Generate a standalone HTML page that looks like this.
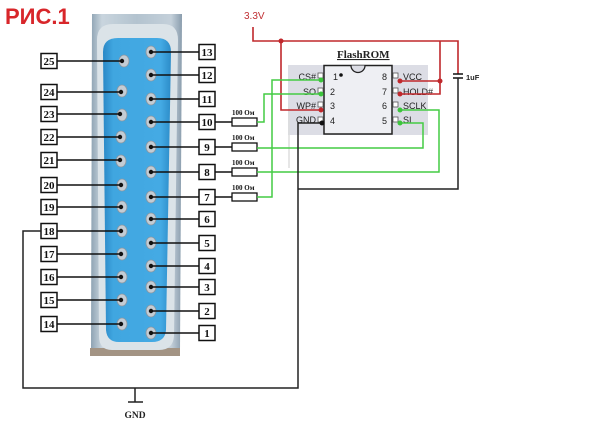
<!DOCTYPE html>
<html><head><meta charset="utf-8"><style>
html,body{margin:0;padding:0;background:#fff;}
svg{display:block;}
.n{font-family:"Liberation Serif",serif;font-weight:bold;font-size:11px;fill:#111;}
.l{font-family:"Liberation Sans",sans-serif;font-size:9px;fill:#222;}
.r{font-family:"Liberation Serif",serif;font-weight:bold;font-size:7px;fill:#111;}
</style></head><body>
<svg width="600" height="445" viewBox="0 0 600 445" xmlns="http://www.w3.org/2000/svg">
<defs>
<linearGradient id="shell" x1="0" y1="0" x2="1" y2="0">
<stop offset="0" stop-color="#8ea3b3"/><stop offset="0.12" stop-color="#c9d5de"/><stop offset="0.5" stop-color="#b3c3cf"/><stop offset="0.88" stop-color="#c4d0da"/><stop offset="1" stop-color="#8a9dad"/>
</linearGradient>
<linearGradient id="blue" x1="0" y1="0" x2="1" y2="0">
<stop offset="0" stop-color="#2a88c6"/><stop offset="0.15" stop-color="#40a6e0"/><stop offset="0.85" stop-color="#44aae4"/><stop offset="1" stop-color="#2c8cc8"/>
</linearGradient>
</defs>
<rect width="600" height="445" fill="#fff"/>
<text x="5" y="24" font-family="Liberation Sans, sans-serif" font-weight="bold" font-size="22" fill="#d8262a">РИС.1</text>

<!-- connector -->
<path d="M92,14 L182,14 L180,350 L91,350 Z" fill="url(#shell)"/>
<rect x="90" y="348" width="90" height="8" fill="#a39484"/>
<path d="M97,40 Q97,24 113,24 L163,24 Q178,24 178,40 L174,336 Q173,350 159,350 L112,350 Q99,350 99,336 Z" fill="#dbe3e8"/>
<path d="M103,52 Q103,38 118,38 L157,38 Q171,38 171,52 L166,330 Q165,342 152,342 L119,342 Q107,342 106,330 Z" fill="url(#blue)"/>

<g fill="#c3ccd4" stroke="#8a96a0" stroke-width="0.8">
<ellipse cx="124" cy="61" rx="5" ry="6"/><ellipse cx="122" cy="91" rx="5" ry="6"/><ellipse cx="122" cy="115" rx="5" ry="6"/><ellipse cx="121" cy="137" rx="5" ry="6"/><ellipse cx="121" cy="161" rx="5" ry="6"/><ellipse cx="122" cy="185" rx="5" ry="6"/><ellipse cx="122" cy="207" rx="5" ry="6"/><ellipse cx="122" cy="231" rx="5" ry="6"/><ellipse cx="122" cy="254" rx="5" ry="6"/><ellipse cx="122" cy="277" rx="5" ry="6"/><ellipse cx="122" cy="300" rx="5" ry="6"/><ellipse cx="122" cy="324" rx="5" ry="6"/>
<ellipse cx="151" cy="52" rx="5" ry="6"/><ellipse cx="151" cy="75" rx="5" ry="6"/><ellipse cx="151" cy="99" rx="5" ry="6"/><ellipse cx="151" cy="122" rx="5" ry="6"/><ellipse cx="151" cy="147" rx="5" ry="6"/><ellipse cx="151" cy="172" rx="5" ry="6"/><ellipse cx="151" cy="197" rx="5" ry="6"/><ellipse cx="151" cy="219" rx="5" ry="6"/><ellipse cx="151" cy="243" rx="5" ry="6"/><ellipse cx="151" cy="266" rx="5" ry="6"/><ellipse cx="151" cy="287" rx="5" ry="6"/><ellipse cx="151" cy="311" rx="5" ry="6"/><ellipse cx="151" cy="333" rx="5" ry="6"/>
</g>

<!-- pin lines -->
<g stroke="#111" stroke-width="1.5" fill="none">
<path d="M57,61H122M57,92H121M57,114H120M57,137H120M57,160H120M57,185H121M57,207H121M57,231H121M57,254H121M57,277H121M57,300H121M57,324H121"/>
<path d="M150,52H199M150,75H199M150,99H199M150,122H199M150,147H199M150,172H199M150,197H199M150,219H199M150,243H199M150,266H199M150,287H199M150,311H199M150,333H199"/>
<path d="M215,122H232M215,147H232M215,172H232M215,197H232"/>
</g>
<g fill="#111">
<circle cx="122" cy="61" r="2.2"/><circle cx="121" cy="92" r="2.2"/><circle cx="120" cy="114" r="2.2"/><circle cx="120" cy="137" r="2.2"/><circle cx="120" cy="160" r="2.2"/><circle cx="121" cy="185" r="2.2"/><circle cx="121" cy="207" r="2.2"/><circle cx="121" cy="231" r="2.2"/><circle cx="121" cy="254" r="2.2"/><circle cx="121" cy="277" r="2.2"/><circle cx="121" cy="300" r="2.2"/><circle cx="121" cy="324" r="2.2"/>
<circle cx="151" cy="52" r="2.2"/><circle cx="151" cy="75" r="2.2"/><circle cx="151" cy="99" r="2.2"/><circle cx="151" cy="122" r="2.2"/><circle cx="151" cy="147" r="2.2"/><circle cx="151" cy="172" r="2.2"/><circle cx="151" cy="197" r="2.2"/><circle cx="151" cy="219" r="2.2"/><circle cx="151" cy="243" r="2.2"/><circle cx="151" cy="266" r="2.2"/><circle cx="151" cy="287" r="2.2"/><circle cx="151" cy="311" r="2.2"/><circle cx="151" cy="333" r="2.2"/>
</g>

<!-- boxes -->
<g fill="#fff" stroke="#111" stroke-width="1.5">
<rect x="41" y="53.5" width="16" height="15"/><rect x="41" y="84.5" width="16" height="15"/><rect x="41" y="106.5" width="16" height="15"/><rect x="41" y="129.5" width="16" height="15"/><rect x="41" y="152.5" width="16" height="15"/><rect x="41" y="177.5" width="16" height="15"/><rect x="41" y="199.5" width="16" height="15"/><rect x="41" y="223.5" width="16" height="15"/><rect x="41" y="246.5" width="16" height="15"/><rect x="41" y="269.5" width="16" height="15"/><rect x="41" y="292.5" width="16" height="15"/><rect x="41" y="316.5" width="16" height="15"/>
<rect x="199" y="44.5" width="16" height="15"/><rect x="199" y="67.5" width="16" height="15"/><rect x="199" y="91.5" width="16" height="15"/><rect x="199" y="114.5" width="16" height="15"/><rect x="199" y="139.5" width="16" height="15"/><rect x="199" y="164.5" width="16" height="15"/><rect x="199" y="189.5" width="16" height="15"/><rect x="199" y="211.5" width="16" height="15"/><rect x="199" y="235.5" width="16" height="15"/><rect x="199" y="258.5" width="16" height="15"/><rect x="199" y="279.5" width="16" height="15"/><rect x="199" y="303.5" width="16" height="15"/><rect x="199" y="325.5" width="16" height="15"/>
</g>
<g class="n" text-anchor="middle">
<text x="49" y="65">25</text><text x="49" y="96">24</text><text x="49" y="118">23</text><text x="49" y="141">22</text><text x="49" y="164">21</text><text x="49" y="189">20</text><text x="49" y="211">19</text><text x="49" y="235">18</text><text x="49" y="258">17</text><text x="49" y="281">16</text><text x="49" y="304">15</text><text x="49" y="328">14</text>
<text x="207" y="56">13</text><text x="207" y="79">12</text><text x="207" y="103">11</text><text x="207" y="126">10</text><text x="207" y="151">9</text><text x="207" y="176">8</text><text x="207" y="201">7</text><text x="207" y="223">6</text><text x="207" y="247">5</text><text x="207" y="270">4</text><text x="207" y="291">3</text><text x="207" y="315">2</text><text x="207" y="337">1</text>
</g>

<!-- resistors -->
<g fill="#fff" stroke="#111" stroke-width="1.3">
<rect x="232" y="118" width="25" height="8"/><rect x="232" y="143" width="25" height="8"/><rect x="232" y="168" width="25" height="8"/><rect x="232" y="193" width="25" height="8"/>
</g>
<g class="r">
<text x="232" y="115">100 Ом</text><text x="232" y="140">100 Ом</text><text x="232" y="165">100 Ом</text><text x="232" y="190">100 Ом</text>
</g>

<!-- chip panel -->
<rect x="288" y="65" width="140" height="70" fill="#dcdde5"/>
<line x1="289" y1="103" x2="289" y2="168" stroke="#dddddd" stroke-width="1.5"/>
<rect x="324" y="65.5" width="68" height="68.5" fill="#eeeff3" stroke="#222" stroke-width="1.5"/>
<path d="M351,65.5 A7,7 0 0 0 365,65.5" fill="#dcdde5" stroke="#222" stroke-width="1.3"/>
<circle cx="341" cy="75" r="1.8" fill="#111"/>
<text x="337" y="58" font-family="Liberation Serif, serif" font-weight="bold" font-size="11" fill="#222" text-decoration="underline">FlashROM</text>
<g fill="#fff" stroke="#555" stroke-width="0.8">
<rect x="318" y="73" width="5" height="5"/><rect x="318" y="88" width="5" height="5"/><rect x="318" y="102" width="5" height="5"/><rect x="318" y="117" width="5" height="5"/>
<rect x="393" y="73" width="5" height="5"/><rect x="393" y="88" width="5" height="5"/><rect x="393" y="102" width="5" height="5"/><rect x="393" y="117" width="5" height="5"/>
</g>
<g class="l">
<text x="316" y="80" text-anchor="end">CS#</text><text x="316" y="95" text-anchor="end">SO</text><text x="316" y="109" text-anchor="end">WP#</text><text x="316" y="123" text-anchor="end">GND</text>
<text x="403" y="80">VCC</text><text x="403" y="95">HOLD#</text><text x="403" y="109">SCLK</text><text x="403" y="123">SI</text>
<text x="333" y="80">1</text><text x="330" y="95">2</text><text x="330" y="109">3</text><text x="330" y="124">4</text>
<text x="382" y="80">8</text><text x="382" y="95">7</text><text x="382" y="109">6</text><text x="382" y="124">5</text>
</g>

<!-- red power -->
<text x="244" y="19" font-family="Liberation Sans, sans-serif" font-size="10" fill="#c03034">3.3V</text>
<g stroke="#c0282c" stroke-width="1.6" fill="none">
<path d="M253,27V41H458V74"/>
<path d="M281,41V110H321"/>
<path d="M440,41V94H400"/>
<path d="M400,81H440"/>
</g>
<g fill="#c0282c">
<circle cx="281" cy="41" r="2.5"/><circle cx="321" cy="110" r="2.5"/><circle cx="400" cy="81" r="2.5"/><circle cx="440" cy="81" r="2.5"/><circle cx="400" cy="94" r="2.5"/>
</g>

<!-- capacitor -->
<g stroke="#111" stroke-width="1.5">
<line x1="453" y1="74" x2="463" y2="74"/><line x1="453" y1="78" x2="463" y2="78"/>
</g>
<text x="466" y="80" font-family="Liberation Sans, sans-serif" font-weight="bold" font-size="7.5" fill="#222">1uF</text>

<!-- green signals -->
<g stroke="#44cc44" stroke-width="1.5" fill="none">
<path d="M321,80H272V197H257"/>
<path d="M321,94H264V122H257"/>
<path d="M400,123H423V148H257"/>
<path d="M400,110H439V172H257"/>
</g>
<g fill="#3cc43c">
<circle cx="321" cy="80" r="2.5"/><circle cx="321" cy="94" r="2.5"/><circle cx="400" cy="110" r="2.5"/><circle cx="400" cy="123" r="2.5"/>
</g>

<!-- ground -->
<g stroke="#222" stroke-width="1.5" fill="none">
<path d="M458,78V189H298"/>
<path d="M322,123H298V388H23V231H41"/>
<path d="M135,388V402M128,402H143"/>
</g>
<circle cx="322" cy="123" r="2.5" fill="#111"/>
<text x="135" y="418" text-anchor="middle" font-family="Liberation Serif, serif" font-weight="bold" font-size="9.5" fill="#222">GND</text>
</svg>
</body></html>
